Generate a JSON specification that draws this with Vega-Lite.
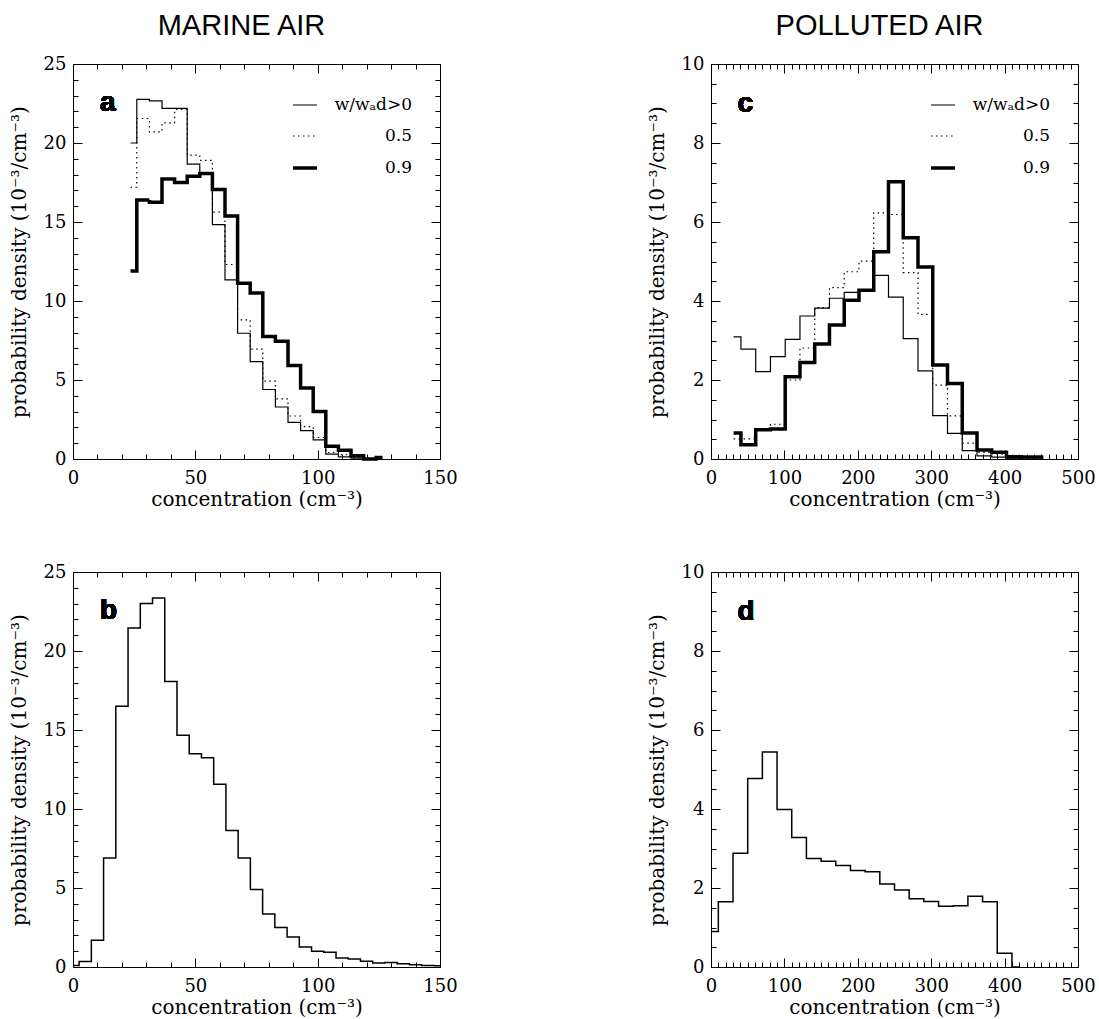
{
  "$schema": "https://vega.github.io/schema/vega-lite/v6.json",
  "background": "white",
  "padding": {"left": 9, "top": 12, "right": 5, "bottom": 0},
  "config": {
    "view": {"stroke": null},
    "font": "DejaVu Serif",
    "axis": {
      "domainColor": "black", "domainWidth": 1, "tickColor": "black", "tickWidth": 1,
      "labelColor": "black", "titleColor": "black", "labelFont": "DejaVu Serif", "titleFont": "DejaVu Serif",
      "labelFontSize": 18, "titleFontSize": 20, "titleFontWeight": "normal", "grid": false,
      "labelOverlap": false, "labelFlush": false
    },
    "legend": {
      "orient": "top-right", "offset": 28, "padding": 0, "symbolType": "stroke", "symbolSize": 576,
      "symbolStrokeColor": "black", "labelFont": "DejaVu Serif", "labelFontSize": 17, "labelColor": "black",
      "labelAlign": "right", "labelOffset": 93, "rowPadding": 10
    },
    "title": {"font": "Liberation Sans", "fontSize": 29, "fontWeight": "normal", "color": "black", "baseline": "alphabetic", "offset": 14, "dx": -15}
  },
  "datasets": {
    "marine_updraft": [
      {"x": 23.5, "y": 20.0, "s": "w/wₐd>0"}, {"x": 28.65, "y": 22.76, "s": "w/wₐd>0"}, {"x": 33.8, "y": 22.67, "s": "w/wₐd>0"},
      {"x": 38.95, "y": 22.19, "s": "w/wₐd>0"}, {"x": 44.1, "y": 22.19, "s": "w/wₐd>0"}, {"x": 49.25, "y": 18.66, "s": "w/wₐd>0"},
      {"x": 54.4, "y": 18.07, "s": "w/wₐd>0"}, {"x": 59.55, "y": 14.83, "s": "w/wₐd>0"}, {"x": 64.7, "y": 11.34, "s": "w/wₐd>0"},
      {"x": 69.85, "y": 7.96, "s": "w/wₐd>0"}, {"x": 75.0, "y": 6.16, "s": "w/wₐd>0"}, {"x": 80.15, "y": 4.4, "s": "w/wₐd>0"},
      {"x": 85.3, "y": 3.29, "s": "w/wₐd>0"}, {"x": 90.45, "y": 2.32, "s": "w/wₐd>0"}, {"x": 95.6, "y": 1.8, "s": "w/wₐd>0"},
      {"x": 100.75, "y": 1.21, "s": "w/wₐd>0"}, {"x": 105.9, "y": 0.31, "s": "w/wₐd>0"}, {"x": 111.05, "y": 0.14, "s": "w/wₐd>0"},
      {"x": 116.2, "y": 0.05, "s": "w/wₐd>0"}, {"x": 121.35, "y": 0.02, "s": "w/wₐd>0"}, {"x": 126.5, "y": 0.0, "s": "w/wₐd>0"},
      {"x": 23.5, "y": 17.2, "s": "0.5"}, {"x": 28.65, "y": 21.55, "s": "0.5"}, {"x": 33.8, "y": 20.7, "s": "0.5"},
      {"x": 38.95, "y": 21.27, "s": "0.5"}, {"x": 44.1, "y": 22.12, "s": "0.5"}, {"x": 49.25, "y": 19.23, "s": "0.5"},
      {"x": 54.4, "y": 18.9, "s": "0.5"}, {"x": 59.55, "y": 15.63, "s": "0.5"}, {"x": 64.7, "y": 12.31, "s": "0.5"},
      {"x": 69.85, "y": 8.81, "s": "0.5"}, {"x": 75.0, "y": 6.95, "s": "0.5"}, {"x": 80.15, "y": 4.93, "s": "0.5"},
      {"x": 85.3, "y": 3.8, "s": "0.5"}, {"x": 90.45, "y": 2.72, "s": "0.5"}, {"x": 95.6, "y": 2.05, "s": "0.5"},
      {"x": 100.75, "y": 1.36, "s": "0.5"}, {"x": 105.9, "y": 0.41, "s": "0.5"}, {"x": 111.05, "y": 0.27, "s": "0.5"},
      {"x": 116.2, "y": 0.1, "s": "0.5"}, {"x": 121.35, "y": 0.03, "s": "0.5"}, {"x": 126.5, "y": 0.0, "s": "0.5"},
      {"x": 23.5, "y": 11.9, "s": "0.9"}, {"x": 28.65, "y": 16.4, "s": "0.9"}, {"x": 33.8, "y": 16.25, "s": "0.9"},
      {"x": 38.95, "y": 17.72, "s": "0.9"}, {"x": 44.1, "y": 17.5, "s": "0.9"}, {"x": 49.25, "y": 17.9, "s": "0.9"},
      {"x": 54.4, "y": 18.07, "s": "0.9"}, {"x": 59.55, "y": 17.05, "s": "0.9"}, {"x": 64.7, "y": 15.38, "s": "0.9"},
      {"x": 69.85, "y": 11.13, "s": "0.9"}, {"x": 75.0, "y": 10.5, "s": "0.9"}, {"x": 80.15, "y": 7.75, "s": "0.9"},
      {"x": 85.3, "y": 7.45, "s": "0.9"}, {"x": 90.45, "y": 5.92, "s": "0.9"}, {"x": 95.6, "y": 4.5, "s": "0.9"},
      {"x": 100.75, "y": 3.01, "s": "0.9"}, {"x": 105.9, "y": 0.8, "s": "0.9"}, {"x": 111.05, "y": 0.56, "s": "0.9"},
      {"x": 116.2, "y": 0.2, "s": "0.9"}, {"x": 121.35, "y": 0.0, "s": "0.9"}, {"x": 126.5, "y": 0.1, "s": "0.9"}
    ],
    "polluted_updraft": [
      {"x": 30.75, "y": 3.09, "s": "w/wₐd>0"}, {"x": 50.85, "y": 2.78, "s": "w/wₐd>0"}, {"x": 70.95, "y": 2.21, "s": "w/wₐd>0"},
      {"x": 91.05, "y": 2.59, "s": "w/wₐd>0"}, {"x": 111.15, "y": 3.03, "s": "w/wₐd>0"}, {"x": 131.25, "y": 3.62, "s": "w/wₐd>0"},
      {"x": 151.35, "y": 3.82, "s": "w/wₐd>0"}, {"x": 171.45, "y": 4.07, "s": "w/wₐd>0"}, {"x": 191.55, "y": 4.22, "s": "w/wₐd>0"},
      {"x": 211.65, "y": 4.27, "s": "w/wₐd>0"}, {"x": 231.75, "y": 4.65, "s": "w/wₐd>0"}, {"x": 251.85, "y": 4.1, "s": "w/wₐd>0"},
      {"x": 271.95, "y": 3.05, "s": "w/wₐd>0"}, {"x": 292.05, "y": 2.23, "s": "w/wₐd>0"}, {"x": 312.15, "y": 1.1, "s": "w/wₐd>0"},
      {"x": 332.25, "y": 0.65, "s": "w/wₐd>0"}, {"x": 352.35, "y": 0.21, "s": "w/wₐd>0"}, {"x": 372.45, "y": 0.08, "s": "w/wₐd>0"},
      {"x": 392.55, "y": 0.05, "s": "w/wₐd>0"}, {"x": 412.65, "y": 0.02, "s": "w/wₐd>0"}, {"x": 432.75, "y": 0.0, "s": "w/wₐd>0"},
      {"x": 452.85, "y": 0.0, "s": "w/wₐd>0"},
      {"x": 30.75, "y": 0.51, "s": "0.5"}, {"x": 50.85, "y": 0.51, "s": "0.5"}, {"x": 70.95, "y": 0.74, "s": "0.5"},
      {"x": 91.05, "y": 0.88, "s": "0.5"}, {"x": 111.15, "y": 2.0, "s": "0.5"}, {"x": 131.25, "y": 2.81, "s": "0.5"},
      {"x": 151.35, "y": 3.83, "s": "0.5"}, {"x": 171.45, "y": 4.34, "s": "0.5"}, {"x": 191.55, "y": 4.74, "s": "0.5"},
      {"x": 211.65, "y": 5.01, "s": "0.5"}, {"x": 231.75, "y": 6.23, "s": "0.5"}, {"x": 251.85, "y": 6.19, "s": "0.5"},
      {"x": 271.95, "y": 4.72, "s": "0.5"}, {"x": 292.05, "y": 3.66, "s": "0.5"}, {"x": 312.15, "y": 1.87, "s": "0.5"},
      {"x": 332.25, "y": 1.09, "s": "0.5"}, {"x": 352.35, "y": 0.4, "s": "0.5"}, {"x": 372.45, "y": 0.17, "s": "0.5"},
      {"x": 392.55, "y": 0.12, "s": "0.5"}, {"x": 412.65, "y": 0.03, "s": "0.5"}, {"x": 432.75, "y": 0.02, "s": "0.5"},
      {"x": 452.85, "y": 0.0, "s": "0.5"},
      {"x": 30.75, "y": 0.66, "s": "0.9"}, {"x": 50.85, "y": 0.36, "s": "0.9"}, {"x": 70.95, "y": 0.74, "s": "0.9"},
      {"x": 91.05, "y": 0.76, "s": "0.9"}, {"x": 111.15, "y": 2.08, "s": "0.9"}, {"x": 131.25, "y": 2.44, "s": "0.9"},
      {"x": 151.35, "y": 2.91, "s": "0.9"}, {"x": 171.45, "y": 3.39, "s": "0.9"}, {"x": 191.55, "y": 4.02, "s": "0.9"},
      {"x": 211.65, "y": 4.27, "s": "0.9"}, {"x": 231.75, "y": 5.25, "s": "0.9"}, {"x": 251.85, "y": 7.02, "s": "0.9"},
      {"x": 271.95, "y": 5.6, "s": "0.9"}, {"x": 292.05, "y": 4.86, "s": "0.9"}, {"x": 312.15, "y": 2.38, "s": "0.9"},
      {"x": 332.25, "y": 1.91, "s": "0.9"}, {"x": 352.35, "y": 0.66, "s": "0.9"}, {"x": 372.45, "y": 0.23, "s": "0.9"},
      {"x": 392.55, "y": 0.17, "s": "0.9"}, {"x": 412.65, "y": 0.06, "s": "0.9"}, {"x": 432.75, "y": 0.05, "s": "0.9"},
      {"x": 452.85, "y": 0.05, "s": "0.9"}
    ],
    "marine_all": [
      {"x": 0, "y": 0.1}, {"x": 5, "y": 0.35}, {"x": 10, "y": 1.7}, {"x": 15, "y": 6.9}, {"x": 20, "y": 16.5},
      {"x": 25, "y": 21.45}, {"x": 30, "y": 23.0}, {"x": 35, "y": 23.35}, {"x": 40, "y": 18.07}, {"x": 45, "y": 14.67},
      {"x": 50, "y": 13.5}, {"x": 55, "y": 13.25}, {"x": 60, "y": 11.56}, {"x": 65, "y": 8.64}, {"x": 70, "y": 6.9},
      {"x": 75, "y": 4.9}, {"x": 80, "y": 3.36}, {"x": 85, "y": 2.5}, {"x": 90, "y": 1.9}, {"x": 95, "y": 1.26},
      {"x": 100, "y": 0.99}, {"x": 105, "y": 0.93}, {"x": 110, "y": 0.57}, {"x": 115, "y": 0.5}, {"x": 120, "y": 0.36},
      {"x": 125, "y": 0.25}, {"x": 130, "y": 0.28}, {"x": 135, "y": 0.2}, {"x": 140, "y": 0.15}, {"x": 145, "y": 0.1},
      {"x": 150, "y": 0.08}
    ],
    "polluted_all": [
      {"x": 0, "y": 0.9}, {"x": 20, "y": 1.65}, {"x": 40, "y": 2.88}, {"x": 60, "y": 4.77}, {"x": 80, "y": 5.44},
      {"x": 100, "y": 3.99}, {"x": 120, "y": 3.28}, {"x": 140, "y": 2.75}, {"x": 160, "y": 2.68}, {"x": 180, "y": 2.57},
      {"x": 200, "y": 2.44}, {"x": 220, "y": 2.41}, {"x": 240, "y": 2.1}, {"x": 260, "y": 1.95}, {"x": 280, "y": 1.73},
      {"x": 300, "y": 1.66}, {"x": 320, "y": 1.54}, {"x": 340, "y": 1.55}, {"x": 360, "y": 1.79}, {"x": 380, "y": 1.65},
      {"x": 400, "y": 0.35}, {"x": 420, "y": 0.0}
    ]
  },
  "spacing": 54,
  "vconcat": [
    {
      "spacing": 189,
      "hconcat": [
        {
          "width": 367, "height": 395,
          "title": {"text": "MARINE AIR"},
          "data": {"name": "marine_updraft"},
          "resolve": {"axis": {"x": "independent", "y": "independent"}},
          "layer": [
            {
              "mark": {"type": "line", "interpolate": "step", "color": "black"},
              "encoding": {
                "x": {"field": "x", "type": "quantitative", "scale": {"domain": [0, 150], "nice": false},
                  "axis": {"orient": "bottom", "values": [0,10,20,30,40,50,60,70,80,90,100,110,120,130,140,150],
                    "labelExpr": "datum.value % 50 === 0 ? datum.label : ''",
                    "tickSize": {"condition": {"test": "datum.value % 50 === 0", "value": -9}, "value": -5},
                    "labelPadding": 19, "title": "concentration (cm⁻³)", "titlePadding": -2}},
                "y": {"field": "y", "type": "quantitative", "scale": {"domain": [0, 25], "nice": false},
                  "axis": {"orient": "left", "values": [0,1,2,3,4,5,6,7,8,9,10,11,12,13,14,15,16,17,18,19,20,21,22,23,24,25],
                    "labelExpr": "datum.value % 5 === 0 ? datum.label : ''",
                    "tickSize": {"condition": {"test": "datum.value % 5 === 0", "value": -9}, "value": -5},
                    "labelPadding": 16, "title": "probability density  (10⁻³/cm⁻³)", "titlePadding": 14}},
                "strokeDash": {"field": "s", "type": "nominal",
                  "scale": {"domain": ["w/wₐd>0", "0.5", "0.9"], "range": [[1, 0], [1.5, 3.5], [1, 0]]},
                  "legend": {"title": null}},
                "strokeWidth": {"field": "s", "type": "nominal",
                  "scale": {"type": "ordinal", "domain": ["w/wₐd>0", "0.5", "0.9"], "range": [1.2, 1.2, 3.5]},
                  "legend": {"title": null}}
              }
            },
            {
              "mark": {"type": "line", "opacity": 0},
              "encoding": {
                "x": {"field": "x", "type": "quantitative", "scale": {"domain": [0, 150], "nice": false},
                  "axis": {"orient": "top", "values": [0,10,20,30,40,50,60,70,80,90,100,110,120,130,140,150], "labels": false, "title": null,
                    "tickSize": {"condition": {"test": "datum.value % 50 === 0", "value": -9}, "value": -5}}},
                "y": {"field": "y", "type": "quantitative", "scale": {"domain": [0, 25], "nice": false},
                  "axis": {"orient": "right", "values": [0,1,2,3,4,5,6,7,8,9,10,11,12,13,14,15,16,17,18,19,20,21,22,23,24,25], "labels": false, "title": null,
                    "tickSize": {"condition": {"test": "datum.value % 5 === 0", "value": -9}, "value": -5}}},
                "detail": {"field": "s"}
              }
            },
            {
              "mark": {"type": "text", "text": "a", "font": "Liberation Sans", "fontWeight": "bold", "fontSize": 28, "align": "left", "baseline": "alphabetic", "color": "black"},
              "encoding": {
                "x": {"datum": 11, "type": "quantitative", "axis": null},
                "y": {"datum": 22.0, "type": "quantitative", "axis": null}
              }
            }
          ]
        },
        {
          "width": 367, "height": 395,
          "title": {"text": "POLLUTED AIR"},
          "data": {"name": "polluted_updraft"},
          "resolve": {"axis": {"x": "independent", "y": "independent"}},
          "layer": [
            {
              "mark": {"type": "line", "interpolate": "step", "color": "black"},
              "encoding": {
                "x": {"field": "x", "type": "quantitative", "scale": {"domain": [0, 500], "nice": false},
                  "axis": {"orient": "bottom", "values": [0,10,20,30,40,50,60,70,80,90,100,110,120,130,140,150,160,170,180,190,200,210,220,230,240,250,260,270,280,290,300,310,320,330,340,350,360,370,380,390,400,410,420,430,440,450,460,470,480,490,500],
                    "labelExpr": "datum.value % 100 === 0 ? datum.label : ''",
                    "tickSize": {"condition": {"test": "datum.value % 100 === 0", "value": -9}, "value": -5},
                    "labelPadding": 19, "title": "concentration (cm⁻³)", "titlePadding": -2}},
                "y": {"field": "y", "type": "quantitative", "scale": {"domain": [0, 10], "nice": false},
                  "axis": {"orient": "left", "values": [0,0.5,1,1.5,2,2.5,3,3.5,4,4.5,5,5.5,6,6.5,7,7.5,8,8.5,9,9.5,10],
                    "labelExpr": "datum.value % 2 === 0 ? format(datum.value, 'd') : ''",
                    "tickSize": {"condition": {"test": "datum.value % 2 === 0", "value": -9}, "value": -5},
                    "labelPadding": 16, "title": "probability density  (10⁻³/cm⁻³)", "titlePadding": 14}},
                "strokeDash": {"field": "s", "type": "nominal",
                  "scale": {"domain": ["w/wₐd>0", "0.5", "0.9"], "range": [[1, 0], [1.5, 3.5], [1, 0]]},
                  "legend": {"title": null}},
                "strokeWidth": {"field": "s", "type": "nominal",
                  "scale": {"type": "ordinal", "domain": ["w/wₐd>0", "0.5", "0.9"], "range": [1.2, 1.2, 3.5]},
                  "legend": {"title": null}}
              }
            },
            {
              "mark": {"type": "line", "opacity": 0},
              "encoding": {
                "x": {"field": "x", "type": "quantitative", "scale": {"domain": [0, 500], "nice": false},
                  "axis": {"orient": "top", "values": [0,10,20,30,40,50,60,70,80,90,100,110,120,130,140,150,160,170,180,190,200,210,220,230,240,250,260,270,280,290,300,310,320,330,340,350,360,370,380,390,400,410,420,430,440,450,460,470,480,490,500], "labels": false, "title": null,
                    "tickSize": {"condition": {"test": "datum.value % 100 === 0", "value": -9}, "value": -5}}},
                "y": {"field": "y", "type": "quantitative", "scale": {"domain": [0, 10], "nice": false},
                  "axis": {"orient": "right", "values": [0,0.5,1,1.5,2,2.5,3,3.5,4,4.5,5,5.5,6,6.5,7,7.5,8,8.5,9,9.5,10], "labels": false, "title": null,
                    "tickSize": {"condition": {"test": "datum.value % 2 === 0", "value": -9}, "value": -5}}},
                "detail": {"field": "s"}
              }
            },
            {
              "mark": {"type": "text", "text": "c", "font": "Liberation Sans", "fontWeight": "bold", "fontSize": 28, "align": "left", "baseline": "alphabetic", "color": "black"},
              "encoding": {
                "x": {"datum": 36, "type": "quantitative", "axis": null},
                "y": {"datum": 8.78, "type": "quantitative", "axis": null}
              }
            }
          ]
        }
      ],
      "resolve": {"scale": {"strokeDash": "independent", "strokeWidth": "independent"}, "legend": {"strokeDash": "independent", "strokeWidth": "independent"}}
    },
    {
      "spacing": 189,
      "hconcat": [
        {
          "width": 367, "height": 395,
          "data": {"name": "marine_all"},
          "resolve": {"axis": {"x": "independent", "y": "independent"}},
          "layer": [
            {
              "mark": {"type": "line", "interpolate": "step", "color": "black", "strokeWidth": 1.5},
              "encoding": {
                "x": {"field": "x", "type": "quantitative", "scale": {"domain": [0, 150], "nice": false},
                  "axis": {"orient": "bottom", "values": [0,10,20,30,40,50,60,70,80,90,100,110,120,130,140,150],
                    "labelExpr": "datum.value % 50 === 0 ? datum.label : ''",
                    "tickSize": {"condition": {"test": "datum.value % 50 === 0", "value": -9}, "value": -5},
                    "labelPadding": 19, "title": "concentration (cm⁻³)", "titlePadding": -2}},
                "y": {"field": "y", "type": "quantitative", "scale": {"domain": [0, 25], "nice": false},
                  "axis": {"orient": "left", "values": [0,1,2,3,4,5,6,7,8,9,10,11,12,13,14,15,16,17,18,19,20,21,22,23,24,25],
                    "labelExpr": "datum.value % 5 === 0 ? datum.label : ''",
                    "tickSize": {"condition": {"test": "datum.value % 5 === 0", "value": -9}, "value": -5},
                    "labelPadding": 16, "title": "probability density  (10⁻³/cm⁻³)", "titlePadding": 14}}
              }
            },
            {
              "mark": {"type": "line", "opacity": 0},
              "encoding": {
                "x": {"field": "x", "type": "quantitative", "scale": {"domain": [0, 150], "nice": false},
                  "axis": {"orient": "top", "values": [0,10,20,30,40,50,60,70,80,90,100,110,120,130,140,150], "labels": false, "title": null,
                    "tickSize": {"condition": {"test": "datum.value % 50 === 0", "value": -9}, "value": -5}}},
                "y": {"field": "y", "type": "quantitative", "scale": {"domain": [0, 25], "nice": false},
                  "axis": {"orient": "right", "values": [0,1,2,3,4,5,6,7,8,9,10,11,12,13,14,15,16,17,18,19,20,21,22,23,24,25], "labels": false, "title": null,
                    "tickSize": {"condition": {"test": "datum.value % 5 === 0", "value": -9}, "value": -5}}}
              }
            },
            {
              "mark": {"type": "text", "text": "b", "font": "Liberation Sans", "fontWeight": "bold", "fontSize": 28, "align": "left", "baseline": "alphabetic", "color": "black"},
              "encoding": {
                "x": {"datum": 11, "type": "quantitative", "axis": null},
                "y": {"datum": 22.0, "type": "quantitative", "axis": null}
              }
            }
          ]
        },
        {
          "width": 367, "height": 395,
          "data": {"name": "polluted_all"},
          "resolve": {"axis": {"x": "independent", "y": "independent"}},
          "layer": [
            {
              "mark": {"type": "line", "interpolate": "step", "color": "black", "strokeWidth": 1.5},
              "encoding": {
                "x": {"field": "x", "type": "quantitative", "scale": {"domain": [0, 500], "nice": false},
                  "axis": {"orient": "bottom", "values": [0,10,20,30,40,50,60,70,80,90,100,110,120,130,140,150,160,170,180,190,200,210,220,230,240,250,260,270,280,290,300,310,320,330,340,350,360,370,380,390,400,410,420,430,440,450,460,470,480,490,500],
                    "labelExpr": "datum.value % 100 === 0 ? datum.label : ''",
                    "tickSize": {"condition": {"test": "datum.value % 100 === 0", "value": -9}, "value": -5},
                    "labelPadding": 19, "title": "concentration (cm⁻³)", "titlePadding": -2}},
                "y": {"field": "y", "type": "quantitative", "scale": {"domain": [0, 10], "nice": false},
                  "axis": {"orient": "left", "values": [0,0.5,1,1.5,2,2.5,3,3.5,4,4.5,5,5.5,6,6.5,7,7.5,8,8.5,9,9.5,10],
                    "labelExpr": "datum.value % 2 === 0 ? format(datum.value, 'd') : ''",
                    "tickSize": {"condition": {"test": "datum.value % 2 === 0", "value": -9}, "value": -5},
                    "labelPadding": 16, "title": "probability density  (10⁻³/cm⁻³)", "titlePadding": 14}}
              }
            },
            {
              "mark": {"type": "line", "opacity": 0},
              "encoding": {
                "x": {"field": "x", "type": "quantitative", "scale": {"domain": [0, 500], "nice": false},
                  "axis": {"orient": "top", "values": [0,10,20,30,40,50,60,70,80,90,100,110,120,130,140,150,160,170,180,190,200,210,220,230,240,250,260,270,280,290,300,310,320,330,340,350,360,370,380,390,400,410,420,430,440,450,460,470,480,490,500], "labels": false, "title": null,
                    "tickSize": {"condition": {"test": "datum.value % 100 === 0", "value": -9}, "value": -5}}},
                "y": {"field": "y", "type": "quantitative", "scale": {"domain": [0, 10], "nice": false},
                  "axis": {"orient": "right", "values": [0,0.5,1,1.5,2,2.5,3,3.5,4,4.5,5,5.5,6,6.5,7,7.5,8,8.5,9,9.5,10], "labels": false, "title": null,
                    "tickSize": {"condition": {"test": "datum.value % 2 === 0", "value": -9}, "value": -5}}}
              }
            },
            {
              "mark": {"type": "text", "text": "d", "font": "Liberation Sans", "fontWeight": "bold", "fontSize": 28, "align": "left", "baseline": "alphabetic", "color": "black"},
              "encoding": {
                "x": {"datum": 36, "type": "quantitative", "axis": null},
                "y": {"datum": 8.78, "type": "quantitative", "axis": null}
              }
            }
          ]
        }
      ]
    }
  ]
}
